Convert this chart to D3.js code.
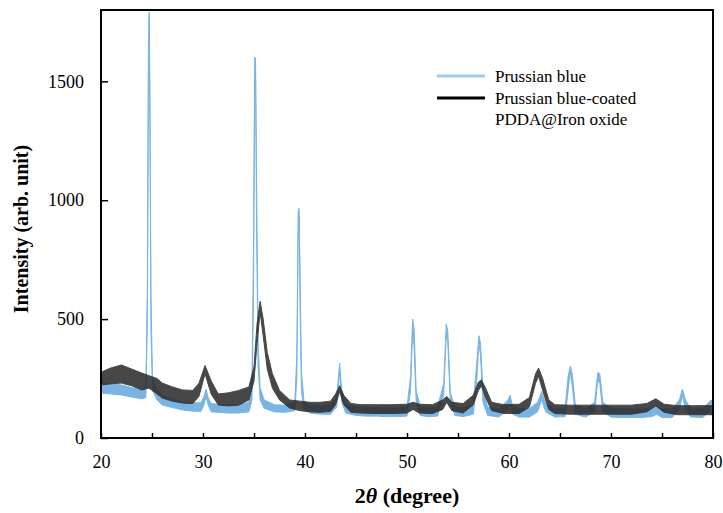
<!DOCTYPE html>
<html>
<head>
<meta charset="utf-8">
<script src="https://cdn.jsdelivr.net/npm/d3@7"></script>
<style>
  body { margin: 0; background: #fff; }
  text { font-family: "Liberation Serif", "Times New Roman", serif; }
</style>
</head>
<body>
<script>
// XRD patterns, each point is [2theta, noise band low, noise band high]
const prussianBlue = [
  [20, 189, 231], [21, 185, 228], [22, 181, 223], [23, 172, 212], [24, 165, 202],
  [24.4, 170, 215], [24.55, 500, 650], [24.65, 1500, 1650], [24.72, 1770, 1790], [24.8, 1300, 1450],
  [24.9, 450, 600], [25.05, 200, 250], [25.5, 160, 200], [26, 139, 181], [27, 128, 165],
  [28, 118, 151], [29, 113, 148], [29.8, 112, 148], [30.1, 140, 175], [30.3, 175, 205],
  [30.5, 140, 170], [30.8, 110, 145], [31.5, 108, 142], [32.5, 105, 140], [33.5, 105, 140],
  [34.5, 110, 150], [34.8, 160, 220], [34.95, 600, 800], [35.07, 1500, 1600], [35.15, 1560, 1600],
  [35.25, 900, 1100], [35.4, 300, 400], [35.6, 160, 210], [36, 125, 160], [37, 110, 140],
  [38, 108, 138], [39, 115, 150], [39.2, 250, 350], [39.33, 850, 950], [39.42, 930, 966],
  [39.5, 600, 750], [39.65, 200, 280], [39.9, 120, 155], [40.5, 105, 140], [41.5, 100, 135],
  [42.5, 100, 138], [43.1, 130, 170], [43.4, 280, 315], [43.6, 150, 200], [44, 105, 140],
  [45, 95, 130], [46, 92, 128], [47, 92, 128], [48, 90, 126], [49, 90, 126],
  [50, 92, 130], [50.35, 200, 260], [50.55, 460, 500], [50.7, 380, 460], [50.9, 150, 200],
  [51.3, 95, 130], [52, 90, 126], [53, 92, 128], [53.6, 180, 230], [53.85, 440, 480],
  [54.0, 400, 450], [54.25, 150, 190], [54.7, 95, 130], [55.5, 90, 126], [56.5, 100, 140],
  [56.85, 250, 320], [57.05, 400, 430], [57.2, 350, 400], [57.45, 150, 200], [57.9, 95, 130],
  [59, 88, 124], [59.9, 120, 160], [60.1, 150, 180], [60.35, 100, 135], [61, 88, 124],
  [62, 88, 124], [62.8, 110, 150], [63.2, 160, 195], [63.6, 110, 145], [64.5, 88, 124],
  [65.5, 90, 128], [65.8, 200, 260], [66.0, 280, 302], [66.2, 220, 270], [66.5, 100, 140],
  [67.5, 88, 124], [68.4, 110, 150], [68.7, 240, 275], [68.9, 230, 270], [69.2, 110, 150],
  [70, 88, 124], [71, 86, 122], [72, 86, 122], [73, 86, 122], [74, 90, 126],
  [74.5, 100, 135], [75, 86, 122], [76, 86, 122], [76.7, 120, 160], [77.0, 180, 206],
  [77.3, 120, 160], [77.8, 88, 124], [79, 86, 124], [79.6, 110, 150], [79.8, 140, 160],
  [80, 120, 150]
];

const coatedIronOxide = [
  [20, 223, 277], [21, 228, 295], [22, 231, 307], [23, 220, 290], [24, 202, 273],
  [24.7, 210, 262], [25.5, 185, 250], [26, 168, 231], [27, 155, 215], [28, 147, 202],
  [29, 145, 200], [29.6, 175, 230], [30.2, 270, 305], [30.8, 185, 240], [31.5, 139, 185],
  [32.5, 135, 190], [33.5, 138, 200], [34.5, 160, 215], [35, 240, 300], [35.3, 400, 480],
  [35.6, 530, 575], [35.9, 430, 500], [36.3, 290, 360], [36.8, 210, 270], [37.5, 160, 200],
  [38.5, 126, 160], [39.5, 115, 155], [40.5, 110, 150], [41.5, 108, 150], [42.5, 112, 155],
  [43.0, 140, 185], [43.4, 195, 220], [43.8, 140, 180], [44.5, 108, 145], [45.5, 105, 140],
  [47, 103, 140], [48.5, 103, 140], [50, 105, 142], [50.6, 120, 150], [51.2, 105, 142],
  [52.5, 103, 140], [53.5, 120, 160], [53.9, 150, 175], [54.4, 115, 150], [55.5, 105, 145],
  [56.5, 140, 180], [57.0, 200, 235], [57.3, 220, 244], [57.7, 170, 210], [58.3, 115, 150],
  [59.5, 103, 140], [61, 103, 142], [62, 130, 170], [62.6, 230, 270], [62.9, 260, 294],
  [63.3, 200, 250], [63.9, 120, 160], [64.5, 103, 140], [66, 100, 138], [68, 100, 138],
  [70, 100, 138], [72, 100, 138], [73.5, 110, 145], [74.4, 135, 165], [75.2, 108, 142],
  [76.5, 98, 136], [78, 98, 136], [80, 98, 136]
];

const xTicks = [20, 25, 30, 35, 40, 45, 50, 55, 60, 65, 70, 75, 80];
const yTicks = [0, 500, 1000, 1500];
const legendLabels = ["Prussian blue", "Prussian blue-coated", "PDDA@Iron oxide"];

const W = 723, H = 513;
const margin = {top: 10, right: 10, bottom: 75, left: 101};
const width = W - margin.left - margin.right,
    height = H - margin.top - margin.bottom;

const svg = d3.select("body").append("svg")
    .attr("width", W)
    .attr("height", H);

const g = svg.append("g")
    .attr("transform", "translate(" + margin.left + "," + margin.top + ")");

var x = d3.scaleLinear().domain([20, 80]).range([0, width]);
var y = d3.scaleLinear().domain([0, 1800]).range([height, 0]);

var band = d3.area()
    .x(d => x(d[0]))
    .y0(d => y(d[1]))
    .y1(d => y(d[2]));

// blue first, dark on top
g.append("path")
    .datum(prussianBlue)
    .attr("d", band)
    .attr("fill", "#6aaee2")
    .attr("stroke", "#6aaee2")
    .attr("stroke-width", 1)
    .attr("opacity", 0.9);

g.append("path")
    .datum(coatedIronOxide)
    .attr("d", band)
    .attr("fill", "#2e2e2e")
    .attr("stroke", "#2e2e2e")
    .attr("stroke-width", 1)
    .attr("opacity", 0.88);

// axes
var xAxis = d3.axisBottom(x)
    .tickValues(xTicks)
    .tickSize(-5)
    .tickPadding(17)
    .tickFormat(d => d % 10 === 0 ? d : "");

var yAxis = d3.axisLeft(y)
    .tickValues(yTicks)
    .tickSize(-7)
    .tickPadding(17)
    .tickFormat(d3.format("d"));

var gx = g.append("g")
    .attr("transform", "translate(0," + height + ")")
    .call(xAxis);
var gy = g.append("g").call(yAxis);

[gx, gy].forEach(a => {
    a.select(".domain").remove();
    a.selectAll("line").attr("stroke", "#000").attr("stroke-width", 1.5);
    a.selectAll("text")
        .attr("font-family", "Liberation Serif, serif")
        .attr("font-size", 18)
        .attr("fill", "#000");
});

// frame
g.append("rect")
    .attr("width", width)
    .attr("height", height)
    .attr("fill", "none")
    .attr("stroke", "#000")
    .attr("stroke-width", 2);

// axis titles
var xt = svg.append("text")
    .attr("x", margin.left + width / 2)
    .attr("y", 503)
    .attr("text-anchor", "middle")
    .attr("font-size", 22)
    .attr("font-weight", "bold");
xt.append("tspan").text("2");
xt.append("tspan").attr("font-style", "italic").text("θ");
xt.append("tspan").text(" (degree)");

svg.append("text")
    .attr("transform", "translate(28,229) rotate(-90)")
    .attr("text-anchor", "middle")
    .attr("font-size", 20)
    .attr("font-weight", "bold")
    .text("Intensity (arb. unit)");

// legend
var legend = svg.append("g");
legend.append("line")
    .attr("x1", 437).attr("x2", 485).attr("y1", 76).attr("y2", 76)
    .attr("stroke", "#9dcaf0").attr("stroke-width", 3);
legend.append("line")
    .attr("x1", 437).attr("x2", 485).attr("y1", 98).attr("y2", 98)
    .attr("stroke", "#000").attr("stroke-width", 3);
legend.selectAll("text.lab")
    .data(legendLabels)
    .join("text")
    .attr("class", "lab")
    .attr("x", 495)
    .attr("y", (d, i) => 82 + i * 21.5)
    .attr("font-size", 17)
    .text(d => d);
</script>
</body>
</html>
